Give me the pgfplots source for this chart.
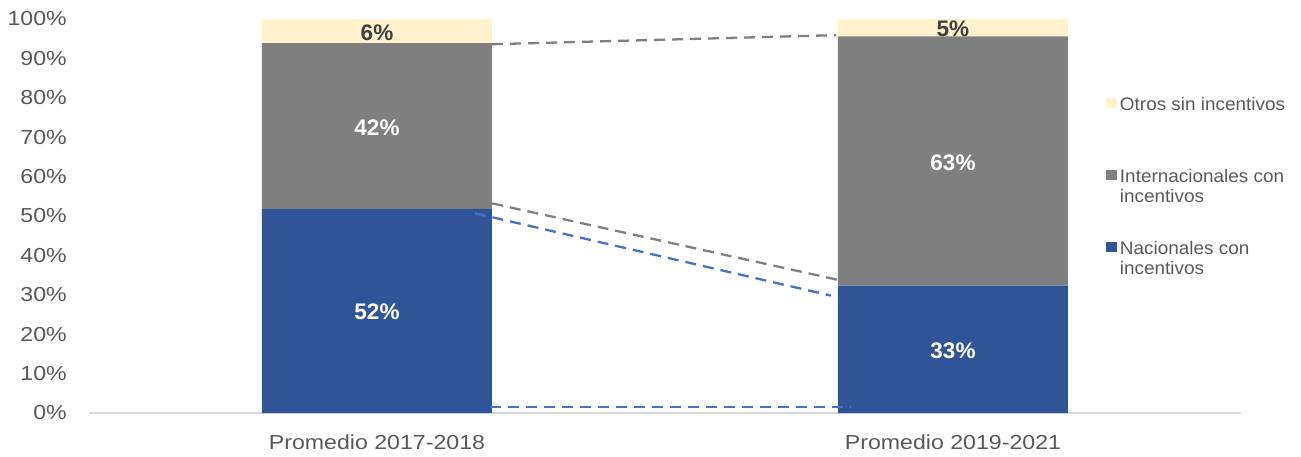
\documentclass[border=0pt]{standalone}
\usepackage{pgfplots}
\pgfplotsset{compat=1.18}
\usepackage{fontspec}
\setmainfont{Liberation Sans}
\newfontfamily\tickfont{Liberation Sans}[FakeStretch=1.14]
\newfontfamily\legfont{Liberation Sans}[FakeStretch=1.04]
\definecolor{nac}{HTML}{2F5597}
\definecolor{intc}{HTML}{7F7F7F}
\definecolor{otr}{HTML}{FFF2CC}
\definecolor{bdash}{HTML}{4472C4}
\definecolor{tickgray}{HTML}{595959}
\definecolor{axisgray}{HTML}{D9D9D9}
\definecolor{darklbl}{HTML}{404040}
\pgfplotsset{sq/.style={legend image code/.code={\fill[##1,draw=none] (0pt,1.7pt) rectangle (10.5pt,11.7pt);}}}
\begin{document}
\begin{tikzpicture}
\begin{axis}[name=ax, scale only axis, width=1152pt, height=394pt,
  xmin=-0.5, xmax=1.5, ymin=0, ymax=100, enlargelimits=false,
  ybar stacked, bar width=230pt,
  axis x line*=bottom, axis y line*=left,
  y axis line style={draw=none},
  x axis line style={-, draw=axisgray, line width=1.8pt},
  xtick={0,1}, xticklabels={Promedio 2017-2018, Promedio 2019-2021},
  ytick={0,10,...,100},
  yticklabels={0\%,10\%,20\%,30\%,40\%,50\%,60\%,70\%,80\%,90\%,100\%},
  tick style={draw=none}, major tick length=0pt,
  yticklabel style={font=\tickfont\fontsize{20.3}{24}\selectfont, text=tickgray, anchor=east, inner sep=0pt, xshift=-22pt},
  xticklabel style={font=\tickfont\fontsize{20.3}{24}\selectfont, text=tickgray, anchor=base, inner sep=0pt, yshift=-36pt},
  reverse legend,
  legend cell align=left,
  legend style={at={(0.8828,0.8046)}, anchor=north west, draw=none, fill=none, inner sep=0pt,
    row sep=30pt, column sep=3.3pt, font=\legfont\fontsize{18.2}{20}\selectfont, text=tickgray,
    nodes={anchor=base west, inner sep=0pt, text height=14pt, text depth=28pt}},
]
\addplot[fill=nac, draw=none, sq] coordinates {(0,51.8) (1,32.3)};
\addlegendentry{\begin{tabular}[t]{@{}l@{}}Nacionales con\\incentivos\end{tabular}}
\addplot[fill=intc, draw=none, sq] coordinates {(0,42.1) (1,63.3)};
\addlegendentry{\begin{tabular}[t]{@{}l@{}}Internacionales con\\incentivos\end{tabular}}
\addplot[fill=otr, draw=none, sq] coordinates {(0,6.1) (1,4.4)};
\addlegendentry{\begin{tabular}[t]{@{}l@{}}Otros sin incentivos\end{tabular}}
\end{axis}
\begin{axis}[scale only axis, width=1152pt, height=394pt,
  xmin=-0.5, xmax=1.5, ymin=0, ymax=100, enlargelimits=false, hide axis, clip=false]
\addplot[intc, line width=2.3pt, dash pattern=on 11pt off 7pt] coordinates {(0.2,93.6) (0.797,95.9)};
\addplot[intc, line width=2.3pt, dash pattern=on 11pt off 7pt] coordinates {(0.2,53.2) (0.8,33.8)};
\addplot[bdash, line width=2.3pt, dash pattern=on 11pt off 7pt] coordinates {(0.17,50.7) (0.788,29.8)};
\addplot[bdash, line width=2pt, dash pattern=on 11pt off 7pt] coordinates {(0.196,1.6) (0.822,1.6)};
\node[font=\bfseries\fontsize{22.5}{26}\selectfont, text=white] at (axis cs:0,25.6) {52\%};
\node[font=\bfseries\fontsize{22.5}{26}\selectfont, text=white] at (axis cs:0,72.5) {42\%};
\node[font=\bfseries\fontsize{22.5}{26}\selectfont, text=darklbl] at (axis cs:0,96.4) {6\%};
\node[font=\bfseries\fontsize{22.5}{26}\selectfont, text=white] at (axis cs:1,15.7) {33\%};
\node[font=\bfseries\fontsize{22.5}{26}\selectfont, text=white] at (axis cs:1,63.5) {63\%};
\node[font=\bfseries\fontsize{22.5}{26}\selectfont, text=darklbl] at (axis cs:1,97.5) {5\%};
\end{axis}
\pgfresetboundingbox
\path (ax.south west) ++(-89pt,-43pt) rectangle ++(1301pt,456pt);
\end{tikzpicture}
\end{document}
